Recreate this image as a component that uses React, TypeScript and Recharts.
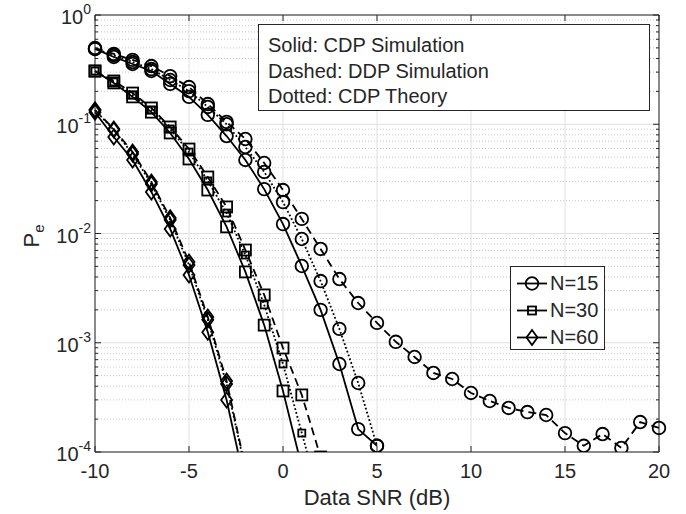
import React from "react";
import { LineChart, Line, XAxis, YAxis, CartesianGrid } from "recharts";

// SNR points (dB), every series starts at -10 dB
const SNR = [-10, -9, -8, -7, -6, -5, -4, -3, -2, -1, 0, 1, 2, 3, 4, 5, 6, 7, 8, 9, 10, 11, 12, 13, 14, 15, 16, 17, 18, 19, 20];

const N15_CDP_SIM = [0.489, 0.413, 0.356, 0.307, 0.234, 0.178, 0.122, 0.078, 0.0471, 0.0255, 0.0122, 0.00504, 0.002, 0.000639, 0.000162, 0.000114];
const N15_DDP_SIM = [
  0.499, 0.44, 0.388, 0.341, 0.276, 0.219, 0.153, 0.105, 0.0733, 0.0442, 0.025, 0.0136, 0.00722, 0.00383, 0.00231, 0.00152,
  0.00102, 0.000741, 0.000529, 0.000466, 0.000347, 0.000293, 0.000253, 0.000232, 0.000218, 0.000149, 0.000114, 0.000146,
  0.000109, 0.000188, 0.000166,
];
const N15_CDP_THEORY = [0.489, 0.43, 0.371, 0.32, 0.254, 0.201, 0.144, 0.1, 0.0619, 0.0366, 0.0194, 0.00891, 0.00367, 0.00134, 0.000428, 0.000114];

const N30_CDP_SIM = [0.307, 0.239, 0.178, 0.129, 0.0832, 0.0481, 0.025, 0.0115, 0.00445, 0.00145, 0.000362, 0.0000729];
const N30_DDP_SIM = [0.307, 0.249, 0.193, 0.141, 0.0944, 0.0593, 0.0329, 0.0175, 0.00706, 0.00274, 0.000895, 0.000333, 0.00009];
const N30_CDP_THEORY = [0.307, 0.244, 0.185, 0.135, 0.0905, 0.0557, 0.0303, 0.0154, 0.00635, 0.00222, 0.000639, 0.000149, 0.0000348];

const N60_CDP_SIM = [0.129, 0.0764, 0.0471, 0.024, 0.011, 0.00417, 0.00125, 0.000299, 0.0000489];
const N60_DDP_SIM = [0.135, 0.0905, 0.0557, 0.0296, 0.0139, 0.00548, 0.00172, 0.000447, 0.0000714];
const N60_CDP_THEORY = [0.135, 0.0886, 0.0535, 0.0284, 0.0133, 0.00515, 0.00162, 0.000419, 0.000069];

const X_TICKS = [-10, -5, 0, 5, 10, 15, 20];
const Y_MAJOR = [1e-4, 1e-3, 1e-2, 1e-1, 1];
const Y_MINOR = Y_MAJOR.slice(0, -1).flatMap((d) => [2, 3, 4, 5, 6, 7, 8, 9].map((m) => m * d));
const Y_ALL = [...Y_MAJOR, ...Y_MINOR];

const NOTES = ["Solid: CDP Simulation", "Dashed: DDP Simulation", "Dotted: CDP Theory"];
const LEGEND = ["N=15", "N=30", "N=60"];

const INK = "#000";
const AXIS = "#262626";
const FONT = "'Liberation Sans', Arial, Helvetica, sans-serif";

type MarkerKind = "circle" | "square" | "smallSquare" | "legendSquare" | "diamond";

const rows = SNR.map((x, i) => ({
  x,
  n15s: N15_CDP_SIM[i],
  n15d: N15_DDP_SIM[i],
  n15t: N15_CDP_THEORY[i],
  n30s: N30_CDP_SIM[i],
  n30d: N30_DDP_SIM[i],
  n30t: N30_CDP_THEORY[i],
  n60s: N60_CDP_SIM[i],
  n60d: N60_DDP_SIM[i],
  n60t: N60_CDP_THEORY[i],
}));

const SERIES: { key: string; kind: MarkerKind; dash?: string }[] = [
  { key: "n15t", kind: "circle", dash: "1.8 2.2" },
  { key: "n15d", kind: "circle", dash: "8 5" },
  { key: "n15s", kind: "circle" },
  { key: "n30t", kind: "smallSquare", dash: "1.8 2.2" },
  { key: "n30d", kind: "square", dash: "8 5" },
  { key: "n30s", kind: "square" },
  { key: "n60t", kind: "diamond", dash: "1.8 2.2" },
  { key: "n60d", kind: "diamond", dash: "8 5" },
  { key: "n60s", kind: "diamond" },
];

function Marker({ kind, cx, cy }: { kind: MarkerKind; cx: number; cy: number }) {
  const common = { fill: "none", stroke: INK, strokeWidth: 1.8 };
  if (kind === "circle") return <circle cx={cx} cy={cy} r={6.3} {...common} />;
  if (kind === "square") return <rect x={cx - 5.5} y={cy - 5.5} width={11} height={11} {...common} />;
  if (kind === "legendSquare") return <rect x={cx - 4} y={cy - 4} width={8} height={8} {...common} />;
  if (kind === "smallSquare") return <rect x={cx - 3.5} y={cy - 3.5} width={7} height={7} {...common} />;
  return <polygon points={`${cx},${cy - 7.5} ${cx + 5.5},${cy} ${cx},${cy + 7.5} ${cx - 5.5},${cy}`} {...common} />;
}

const makeDot = (kind: MarkerKind, id: string) => (props: any) => {
  const { cx, cy, index } = props;
  if (cx == null || cy == null || Number.isNaN(cy)) return <g key={`${id}-${index}`} />;
  return (
    <g key={`${id}-${index}`}>
      <Marker kind={kind} cx={cx} cy={cy} />
    </g>
  );
};

const isMajor = (v: number) => Y_MAJOR.some((m) => Math.abs(m - v) / m < 1e-6);

function BottomTick({ x, y, payload }: any) {
  return (
    <g>
      <line x1={x} x2={x} y1={y} y2={y - 6} stroke={AXIS} />
      <text x={x} y={y + 26} textAnchor="middle" fontFamily={FONT} fontSize={20} fill={AXIS}>
        {payload.value}
      </text>
    </g>
  );
}

function TopTick({ x, y }: any) {
  return <line x1={x} x2={x} y1={y} y2={y + 6} stroke={AXIS} />;
}

function LeftTick({ x, y, payload }: any) {
  const major = isMajor(payload.value);
  const exp = Math.round(Math.log10(payload.value));
  return (
    <g>
      <line x1={x} x2={x + (major ? 6 : 3)} y1={y} y2={y} stroke={AXIS} />
      {major && (
        <text x={x - 4} y={y + 9} textAnchor="end" fontFamily={FONT} fontSize={20} fill={AXIS}>
          10
          <tspan dy={-10} fontSize={14}>
            {exp}
          </tspan>
        </text>
      )}
    </g>
  );
}

function RightTick({ x, y, payload }: any) {
  const major = isMajor(payload.value);
  return <line x1={x} x2={x - (major ? 6 : 3)} y1={y} y2={y} stroke={AXIS} />;
}

function LegendIcon({ kind }: { kind: MarkerKind }) {
  return (
    <svg width={40} height={27} style={{ display: "block" }}>
      <line x1={7} x2={37} y1={13.5} y2={13.5} stroke={INK} strokeWidth={1.8} />
      <Marker kind={kind} cx={22} cy={13.5} />
    </svg>
  );
}

export default function App() {
  const kinds: MarkerKind[] = ["circle", "legendSquare", "diamond"];
  return (
    <div style={{ position: "absolute", left: 0, top: 0, width: 686, height: 514, background: "#fff" }}>
      <LineChart width={686} height={514} data={rows} margin={{ top: 14, right: 26, bottom: 61, left: 94 }}>
        <CartesianGrid stroke="#e0e0e0" horizontalValues={Y_MAJOR} verticalValues={X_TICKS} />
        <CartesianGrid stroke="#c8c8c8" strokeDasharray="1 2" vertical={false} horizontalValues={Y_MINOR} />
        <XAxis
          dataKey="x"
          type="number"
          domain={[-10, 20]}
          ticks={X_TICKS}
          interval={0}
          height={1}
          tickSize={0}
          tickMargin={0}
          tickLine={false}
          tick={<BottomTick />}
          axisLine={{ stroke: AXIS }}
        />
        <XAxis
          xAxisId="top"
          orientation="top"
          dataKey="x"
          type="number"
          domain={[-10, 20]}
          ticks={X_TICKS}
          interval={0}
          height={1}
          tickSize={0}
          tickMargin={0}
          tickLine={false}
          tick={<TopTick />}
          axisLine={{ stroke: AXIS }}
        />
        <YAxis
          scale="log"
          domain={[1e-4, 1]}
          allowDataOverflow
          ticks={Y_ALL}
          interval={0}
          width={1}
          tickSize={0}
          tickMargin={0}
          tickLine={false}
          tick={<LeftTick />}
          axisLine={{ stroke: AXIS }}
        />
        <YAxis
          yAxisId="right"
          orientation="right"
          scale="log"
          domain={[1e-4, 1]}
          allowDataOverflow
          ticks={Y_ALL}
          interval={0}
          width={1}
          tickSize={0}
          tickMargin={0}
          tickLine={false}
          tick={<RightTick />}
          axisLine={{ stroke: AXIS }}
        />
        {SERIES.map((s) => (
          <Line
            key={s.key}
            dataKey={s.key}
            type="linear"
            stroke={INK}
            strokeWidth={1.8}
            strokeDasharray={s.dash}
            dot={makeDot(s.kind, s.key)}
            activeDot={false}
            connectNulls={false}
            isAnimationActive={false}
          />
        ))}
      </LineChart>

      <svg width={686} height={514} style={{ position: "absolute", left: 0, top: 0, pointerEvents: "none" }}>
        <text transform="translate(39,236) rotate(-90)" textAnchor="middle" fontFamily={FONT} fontSize={22} fill={AXIS}>
          P
          <tspan dy={5} fontSize={15}>
            e
          </tspan>
        </text>
        <text x={377} y={505} textAnchor="middle" fontFamily={FONT} fontSize={22} fill={AXIS}>
          Data SNR (dB)
        </text>
      </svg>

      <div
        style={{
          position: "absolute",
          left: 258,
          top: 24,
          width: 392,
          height: 87,
          boxSizing: "border-box",
          border: `1px solid ${AXIS}`,
          background: "#fff",
          padding: "8px 0 0 9px",
          fontFamily: FONT,
          fontSize: 20,
          color: AXIS,
        }}
      >
        {NOTES.map((t) => (
          <div key={t} style={{ height: 25.5, lineHeight: "25.5px", whiteSpace: "nowrap" }}>
            {t}
          </div>
        ))}
      </div>

      <div
        style={{
          position: "absolute",
          left: 510,
          top: 266,
          width: 95,
          height: 84,
          boxSizing: "border-box",
          border: `1px solid ${AXIS}`,
          background: "#fff",
          paddingTop: 2.5,
          fontFamily: FONT,
          fontSize: 20,
          color: AXIS,
        }}
      >
        {LEGEND.map((t, i) => (
          <div key={t} style={{ display: "flex", alignItems: "center", height: 27, marginLeft: -1 }}>
            <LegendIcon kind={kinds[i]} />
            <span style={{ lineHeight: "27px", whiteSpace: "nowrap" }}>{t}</span>
          </div>
        ))}
      </div>
    </div>
  );
}
